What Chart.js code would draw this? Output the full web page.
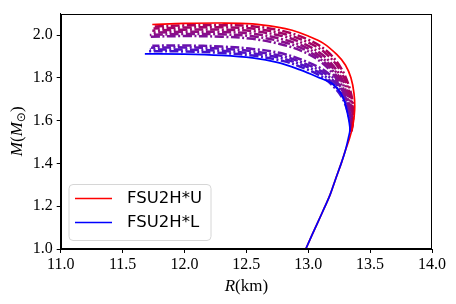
<!DOCTYPE html>
<html>
<head>
<meta charset="utf-8">
<script src="https://cdn.jsdelivr.net/npm/chart.js@4.4.1/dist/chart.umd.min.js"></script>
<style>
html,body{margin:0;padding:0;background:#fff;}
#wrap{width:456px;height:304px;}
</style>
</head>
<body>
<div id="wrap"><canvas id="c" width="456" height="304"></canvas></div>
<script>
// ---- data (R in km, M in solar masses) ----
const xTicks = [11.0, 11.5, 12.0, 12.5, 13.0, 13.5, 14.0];
const yTicks = [1.0, 1.2, 1.4, 1.6, 1.8, 2.0];

const curveU = [[11.74,2.049],[12.0,2.054],[12.3,2.056],[12.55,2.052],[12.75,2.037],[12.87,2.022],[13.0,1.995],[13.12,1.962],[13.23,1.909],[13.30,1.86],[13.345,1.80],[13.37,1.726],[13.375,1.65],[13.36,1.575],[13.335,1.52],[13.30,1.46],[13.27,1.406],[13.22,1.325],[13.177,1.254],[13.13,1.192],[13.08,1.128],[13.03,1.065],[12.98,1.0]];
const curveL = [[11.68,1.912],[12.0,1.911],[12.3,1.905],[12.55,1.893],[12.75,1.872],[12.93,1.838],[13.07,1.805],[13.2,1.77],[13.28,1.71],[13.32,1.625],[13.337,1.56],[13.325,1.52],[13.30,1.46],[13.27,1.406],[13.22,1.325],[13.177,1.254],[13.13,1.192],[13.08,1.128],[13.03,1.065],[12.98,1.0]];

const mid1 = [[11.76,2.040],[12.0,2.045],[12.3,2.046],[12.55,2.041],[12.8,2.018],[13.0,1.978],[13.15,1.925],[13.26,1.85],[13.33,1.76],[13.362,1.67],[13.36,1.59],[13.35,1.55]];
const mid2 = [[11.75,2.030],[12.0,2.035],[12.3,2.036],[12.55,2.030],[12.8,2.006],[13.0,1.965],[13.14,1.915],[13.25,1.842],[13.32,1.755],[13.358,1.665],[13.357,1.59],[13.348,1.55]];
const mid3 = [[11.74,2.020],[12.0,2.025],[12.3,2.025],[12.55,2.018],[12.8,1.994],[12.98,1.955],[13.12,1.905],[13.23,1.835],[13.31,1.75],[13.354,1.66],[13.354,1.59],[13.346,1.55]];
const mid4 = [[11.73,2.010],[12.0,2.015],[12.3,2.014],[12.55,2.006],[12.78,1.982],[12.97,1.945],[13.11,1.895],[13.22,1.83],[13.30,1.745],[13.35,1.655],[13.352,1.59],[13.345,1.55]];
const mid5 = [[11.72,2.000],[12.0,2.005],[12.3,2.003],[12.55,1.994],[12.78,1.97],[12.96,1.935],[13.10,1.887],[13.21,1.824],[13.29,1.74],[13.345,1.65],[13.35,1.59],[13.344,1.55]];
const mid6 = [[11.72,1.992],[12.0,1.995],[12.3,1.992],[12.55,1.982],[12.77,1.958],[12.95,1.925],[13.09,1.88],[13.2,1.818],[13.28,1.735],[13.34,1.645],[13.348,1.59],[13.343,1.55]];
const mid7 = [[11.74,1.950],[12.0,1.951],[12.3,1.946],[12.55,1.935],[12.8,1.912],[13.0,1.872],[13.14,1.83],[13.24,1.775],[13.30,1.71],[13.337,1.635],[13.347,1.58],[13.345,1.55]];
const mid8 = [[11.73,1.941],[12.0,1.942],[12.3,1.936],[12.55,1.924],[12.8,1.90],[12.99,1.862],[13.13,1.822],[13.23,1.768],[13.295,1.705],[13.334,1.63],[13.345,1.58],[13.344,1.55]];
const mid9 = [[11.72,1.932],[12.0,1.932],[12.3,1.926],[12.55,1.914],[12.8,1.889],[12.98,1.853],[13.12,1.813],[13.22,1.76],[13.29,1.70],[13.331,1.625],[13.343,1.58],[13.343,1.55]];
const mid10 = [[11.71,1.924],[12.0,1.923],[12.3,1.916],[12.55,1.904],[12.8,1.878],[12.97,1.844],[13.11,1.805],[13.215,1.753],[13.285,1.695],[13.328,1.62],[13.342,1.58],[13.342,1.55]];

const midCurves = [mid1, mid2, mid3, mid4, mid5, mid6, mid7, mid8, mid9, mid10];
const midColors = ['#a8005c','#a00468','#980874','#900c80','#880e8c','#7e1098','#6a12ae','#5e12b8','#5212c4','#4612ce'];
const labelU = 'FSU2H*U';
const labelL = 'FSU2H*L';

const toPts = a => a.map(p => ({x: p[0], y: p[1]}));

// index 0 is drawn on top: blue, then red, then the dash-dot family
const datasets = [
  {label: labelL, data: toPts(curveL), borderColor: '#0000ff', borderWidth: 1.7, showLine: true, pointRadius: 0, tension: 0.35, fill: false},
  {label: labelU, data: toPts(curveU), borderColor: '#ff0000', borderWidth: 1.7, showLine: true, pointRadius: 0, tension: 0.35, fill: false}
];
midCurves.forEach((c, i) => {
  datasets.push({label: 'mid' + (i+1), data: toPts(c), borderColor: midColors[i], borderWidth: 2.5,
    borderDash: [9, 2.5, 2, 2.5], borderDashOffset: i * 3, showLine: true, pointRadius: 0, tension: 0.35, fill: false});
});

const serif = '"Liberation Serif", "DejaVu Serif", serif';

const framePlugin = {
  id: 'frame',
  afterDraw(chart) {
    const ctx = chart.ctx, a = chart.chartArea;
    ctx.save();
    ctx.strokeStyle = '#000';
    ctx.lineWidth = 1;
    ctx.strokeRect(Math.round(a.left) + 0.5, Math.round(a.top) + 0.5, Math.round(a.right - a.left) - 1, Math.round(a.bottom - a.top) - 1);

    // axis titles
    ctx.fillStyle = '#000';
    ctx.textBaseline = 'alphabetic';
    const it = 'italic 17px ' + serif, up = '17px ' + serif, sub = '12px "DejaVu Sans", serif';
    const drawParts = (parts, cx, cy) => {
      let w = 0;
      parts.forEach(p => { ctx.font = p[1]; w += ctx.measureText(p[0]).width; });
      let x = cx - w / 2;
      parts.forEach(p => { ctx.font = p[1]; ctx.fillText(p[0], x, cy + (p[2] || 0)); x += ctx.measureText(p[0]).width; });
    };
    drawParts([['R', it], ['(km)', up]], (a.left + a.right) / 2, 291);
    ctx.translate(22, (a.top + a.bottom) / 2);
    ctx.rotate(-Math.PI / 2);
    drawParts([['M', it], ['(', up], ['M', it], ['\u2299', sub, 3], [')', up]], 0, 0);
    ctx.restore();

    // legend (entries taken from the two labelled datasets)
    ctx.save();
    const lx = 69, ly = 184.5, lw = 142, lh = 56, r = 4;
    ctx.beginPath();
    ctx.moveTo(lx + r, ly);
    ctx.arcTo(lx + lw, ly, lx + lw, ly + lh, r);
    ctx.arcTo(lx + lw, ly + lh, lx, ly + lh, r);
    ctx.arcTo(lx, ly + lh, lx, ly, r);
    ctx.arcTo(lx, ly, lx + lw, ly, r);
    ctx.closePath();
    ctx.fillStyle = 'rgba(255,255,255,0.8)';
    ctx.fill();
    ctx.strokeStyle = '#d6d6d6';
    ctx.lineWidth = 1;
    ctx.stroke();
    const items = [chart.data.datasets[1], chart.data.datasets[0]];
    items.forEach((d, i) => {
      const y = 198.5 + i * 24;
      ctx.strokeStyle = d.borderColor;
      ctx.lineWidth = 1.7;
      ctx.beginPath(); ctx.moveTo(75, y); ctx.lineTo(112, y); ctx.stroke();
      ctx.fillStyle = '#000';
      ctx.font = '16.5px "DejaVu Sans", sans-serif';
      ctx.textBaseline = 'middle';
      ctx.fillText(d.label, 127, y + 0.5);
    });
    ctx.restore();
  }
};

new Chart(document.getElementById('c'), {
  type: 'scatter',
  data: {datasets},
  options: {
    responsive: false,
    animation: false,
    devicePixelRatio: 1,
    layout: {padding: {left: 0, right: 24, top: 8, bottom: 0}},
    plugins: {legend: {display: false}, tooltip: {enabled: false}},
    scales: {
      x: {
        type: 'linear', min: 11, max: 14,
        afterBuildTicks: s => { s.ticks = xTicks.map(v => ({value: v})); },
        afterFit: s => { s.height = 55; },
        grid: {display: true, drawOnChartArea: false, drawTicks: true, tickLength: 4, color: '#000'},
        border: {display: true, color: '#000'},
        ticks: {font: {family: serif, size: 16}, color: '#000', padding: 2, maxRotation: 0,
          callback: v => Number(v).toFixed(1)}
      },
      y: {
        type: 'linear', min: 1.0, max: 2.1,
        afterBuildTicks: s => { s.ticks = yTicks.map(v => ({value: v})); },
        afterFit: s => { s.width = 60.7; },
        grid: {display: true, drawOnChartArea: false, drawTicks: true, tickLength: 4, color: '#000'},
        border: {display: true, color: '#000'},
        ticks: {font: {family: serif, size: 16}, color: '#000', padding: 4,
          callback: v => Number(v).toFixed(1)}
      }
    }
  },
  plugins: [framePlugin]
});
</script>
</body>
</html>
